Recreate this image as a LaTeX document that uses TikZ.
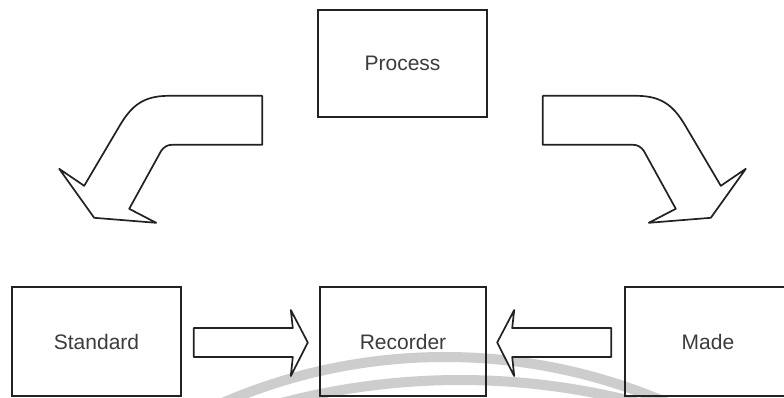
\documentclass[tikz,border=0pt]{standalone}
\usepackage{fontspec}
\setmainfont{Liberation Sans}
\usetikzlibrary{calc}

\definecolor{inkline}{HTML}{222222}
\definecolor{inktext}{HTML}{3C3C3C}
\definecolor{wmgrey}{HTML}{CDCDCD}

\tikzset{
  box/.style={draw=inkline, line width=1.6pt, inner sep=0pt,
              text=inktext, font=\fontsize{21}{25}\selectfont},
  blockarrow/.style={draw=inkline, line width=1.7pt, line join=round, fill=white},
  wmark/.style={draw=wmgrey, line width=10pt}
}

\begin{document}
\begin{tikzpicture}[x=1pt, y=-1pt]
  \useasboundingbox (0,0) rectangle (784,397);
  \fill[white] (0,0) rectangle (784,397);

  % faint arcs of the background mark
  \begin{scope}
    \clip (0,0) rectangle (784,397);
    \draw[wmark] (445,917) circle[radius=560];
    \draw[wmark] (460,1080) circle[radius=700];
  \end{scope}

  % boxes
  \node[box, minimum width=169pt, minimum height=107pt] (proc) at (402.5,63.5) {Process};
  \node[box, minimum width=169pt, minimum height=109pt] (std)  at (96.5,341.5) {Standard};
  \node[box, minimum width=166pt, minimum height=109pt] (rec)  at (403,341.5) {Recorder};
  \node[box, minimum width=166pt, minimum height=109pt] (made) at (708,341.5) {Made};

  % curved block arrow from Process down to Standard
  \begin{scope}[shift={(proc.south west)}]
    \draw[blockarrow] (-55,-22) -- (-148,-22)
      .. controls (-173,-22) and (-185,-13) .. (-197,7)
      -- (-233,68) -- (-258,51) -- (-223,100) -- (-161,105) -- (-188,91)
      -- (-156,33) .. controls (-153,29) and (-150,27) .. (-145,27)
      -- (-55,27) -- cycle;
  \end{scope}

  % curved block arrow from Process down to Made (mirror image)
  \begin{scope}[shift={(proc.south east)}, xscale=-1]
    \draw[blockarrow] (-55,-22) -- (-148,-22)
      .. controls (-173,-22) and (-185,-13) .. (-197,7)
      -- (-233,68) -- (-258,51) -- (-223,100) -- (-161,105) -- (-188,91)
      -- (-156,33) .. controls (-153,29) and (-150,27) .. (-145,27)
      -- (-55,27) -- cycle;
  \end{scope}

  % straight block arrow Standard -> Recorder
  \draw[blockarrow] ($(std.east)+(12,-13.5)$) -- ++(99,0) -- ++(-2,-18)
    -- ++(17,32.5) -- ++(-17,33.5) -- ++(2,-19) -- ++(-99,0) -- cycle;

  % straight block arrow Made -> Recorder
  \draw[blockarrow] ($(made.west)+(-13,-13.5)$) -- ++(-99,0) -- ++(2,-18)
    -- ++(-17,32.5) -- ++(17,33.5) -- ++(-2,-19) -- ++(99,0) -- cycle;
\end{tikzpicture}
\end{document}
